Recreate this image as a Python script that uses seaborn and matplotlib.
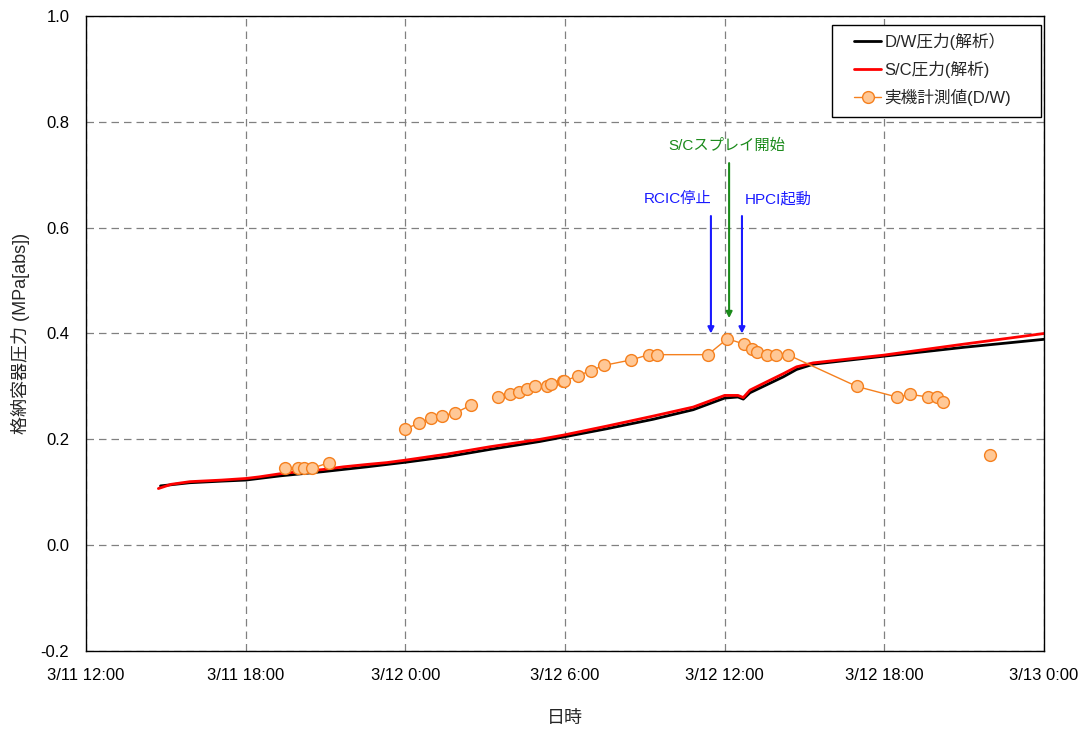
import matplotlib
matplotlib.use("Agg")
import matplotlib.pyplot as plt
from matplotlib.patches import Rectangle
import numpy as np
import pandas as pd
import seaborn as sns

# ---- data -------------------------------------------------------------
# analysis results: elapsed hours from 2011-03-11 12:00 and pressure [MPa abs]
sc_hours = [2.72, 3.2, 3.9, 5.1, 6.0, 6.5, 7.3, 8.04, 8.92, 9.67, 10.55, 11.3,
            12.05, 13.55, 15.18, 17.06, 17.94, 19.57, 21.32, 22.82, 24.0, 24.5,
            24.7, 24.95, 25.45, 26.2, 26.7, 27.33, 29.96, 33.0, 36.0]
sc_pressure = [0.107, 0.115, 0.120, 0.123, 0.126, 0.129, 0.135, 0.139, 0.143,
               0.148, 0.1525, 0.156, 0.161, 0.172, 0.186, 0.200, 0.208, 0.225,
               0.244, 0.261, 0.283, 0.283, 0.279, 0.293, 0.3055, 0.324, 0.337,
               0.3445, 0.359, 0.380, 0.400]

dw_hours = [2.8, 3.9, 5.1, 6.0, 7.3, 8.92, 10.55, 12.05, 13.55, 15.18, 17.06,
            19.57, 21.32, 22.82, 24.0, 24.5, 24.7, 24.95, 25.45, 26.2, 26.7,
            27.33, 29.96, 33.0, 36.0]
dw_pressure = [0.112, 0.118, 0.121, 0.123, 0.131, 0.139, 0.148, 0.157, 0.167,
               0.181, 0.196, 0.220, 0.238, 0.256, 0.278, 0.280, 0.276, 0.288,
               0.300, 0.318, 0.332, 0.342, 0.357, 0.374, 0.389]

# plant measurements (D/W), grouped into continuous recording segments
meas_time = ["2011-03-11 19:29", "2011-03-11 19:58", "2011-03-11 20:12",
             "2011-03-11 20:29", "2011-03-11 21:08",
             "2011-03-12 00:00", "2011-03-12 00:30", "2011-03-12 00:58",
             "2011-03-12 01:23", "2011-03-12 01:53", "2011-03-12 02:29",
             "2011-03-12 03:28", "2011-03-12 03:55", "2011-03-12 04:17",
             "2011-03-12 04:34", "2011-03-12 04:53", "2011-03-12 05:19",
             "2011-03-12 05:29", "2011-03-12 05:55", "2011-03-12 05:58",
             "2011-03-12 06:29", "2011-03-12 06:58", "2011-03-12 07:29",
             "2011-03-12 08:29", "2011-03-12 09:09", "2011-03-12 09:27",
             "2011-03-12 11:22", "2011-03-12 12:06", "2011-03-12 12:44",
             "2011-03-12 13:01", "2011-03-12 13:12", "2011-03-12 13:36",
             "2011-03-12 13:56", "2011-03-12 14:22", "2011-03-12 16:58",
             "2011-03-12 18:28", "2011-03-12 18:58", "2011-03-12 19:39",
             "2011-03-12 19:58", "2011-03-12 20:13",
             "2011-03-12 21:58"]
meas_pressure = [0.145, 0.145, 0.145, 0.145, 0.156,
                 0.220, 0.230, 0.240, 0.245, 0.250, 0.265,
                 0.280, 0.285, 0.290, 0.295, 0.300, 0.300, 0.305, 0.310, 0.310,
                 0.320, 0.330, 0.340, 0.350, 0.360, 0.360, 0.360, 0.390, 0.380,
                 0.370, 0.365, 0.360, 0.360, 0.360, 0.300, 0.280, 0.285, 0.280,
                 0.280, 0.270,
                 0.170]
meas_segment = [1] * 5 + [2] * 6 + [3] * 29 + [4]

# event annotations
event_labels = ["RCIC停止", "S/Cスプレイ開始", "HPCI起動"]
event_times = ["2011-03-12 11:29", "2011-03-12 12:10", "2011-03-12 12:39"]
event_text_times = ["2011-03-12 10:15", "2011-03-12 12:05", "2011-03-12 14:00"]
event_colors = ["#1a1aff", "#1a8a1a", "#1a1aff"]
event_text_y = [0.654, 0.754, 0.654]
event_tail_y = [0.622, 0.722, 0.622]
event_tip_y = [0.400, 0.429, 0.400]

series_labels = ["D/W圧力(解析）", "S/C圧力(解析)", "実機計測値(D/W)"]
x_ticks = pd.date_range("2011-03-11 12:00", "2011-03-13 00:00", freq="6h")
y_ticks = [-0.2, 0.0, 0.2, 0.4, 0.6, 0.8, 1.0]

# ---- frames -----------------------------------------------------------
base = pd.Timestamp("2011-03-11 12:00")
sc_df = pd.DataFrame({"time": base + pd.to_timedelta(sc_hours, unit="h"),
                      "pressure": sc_pressure})
dw_df = pd.DataFrame({"time": base + pd.to_timedelta(dw_hours, unit="h"),
                      "pressure": dw_pressure})
meas_df = pd.DataFrame({"time": pd.to_datetime(meas_time),
                        "pressure": meas_pressure,
                        "segment": meas_segment})

# ---- style ------------------------------------------------------------
sns.set_style("white")
plt.rcParams["font.family"] = ["Liberation Sans", "Noto Sans CJK JP"]
plt.rcParams["axes.unicode_minus"] = False

W, H = 1086, 731
fig = plt.figure(figsize=(W / 100, H / 100), dpi=100)
ax = fig.add_axes([86 / W, 1 - 651 / H, (1044 - 86) / W, (651 - 16) / H])

sns.lineplot(data=dw_df, x="time", y="pressure", ax=ax, color="black",
             linewidth=2.0, label=series_labels[0], sort=False)
sns.lineplot(data=sc_df, x="time", y="pressure", ax=ax, color="#ff0000",
             linewidth=2.0, label=series_labels[1], sort=False)
sns.lineplot(data=meas_df, x="time", y="pressure", units="segment",
             estimator=None, ax=ax, color="#f5801e", linewidth=1.0,
             marker="o", markersize=8.5, markerfacecolor="#ffc896",
             markeredgecolor="#f5801e", markeredgewidth=1.0,
             label=series_labels[2], sort=False)

# event arrows and labels
for lab, t, tt, c, ty, y0, y1 in zip(event_labels, event_times,
                                     event_text_times, event_colors,
                                     event_text_y, event_tail_y, event_tip_y):
    tx = pd.Timestamp(t)
    ax.annotate("", xy=(tx, y1), xytext=(tx, y0),
                arrowprops=dict(arrowstyle="-|>", color=c, lw=1.5,
                                mutation_scale=9, shrinkA=0, shrinkB=0))
    ax.text(pd.Timestamp(tt), ty, lab, color=c, fontsize=11,
            ha="center", va="center")

# axes
ax.set_xlim(x_ticks[0], x_ticks[-1])
ax.set_ylim(-0.2, 1.0)
ax.set_xticks(x_ticks)
ax.set_xticklabels([f"{d.month}/{d.day} {d.hour}:{d.minute:02d}" for d in x_ticks])
ax.set_yticks(y_ticks)
ax.set_yticklabels([f"{v:.1f}" for v in y_ticks])
ax.tick_params(axis="both", direction="in", length=5, width=1, colors="black",
               labelsize=12, pad=12)
ax.set_xlabel("日時", fontsize=13, labelpad=20)
ax.set_ylabel("格納容器圧力 (MPa[abs])", fontsize=13, labelpad=8)

ax.grid(True, color="#808080", linestyle=(0, (6, 4)), linewidth=0.9)
for s in ax.spines.values():
    s.set_color("black")
    s.set_linewidth(1.0)
    s.set_visible(True)

# legend: one entry per series, inside a square black box
handles, labels = ax.get_legend_handles_labels()
keep = [labels.index(l) for l in series_labels]
leg = ax.legend([handles[i] for i in keep], [labels[i] for i in keep],
                loc="upper left",
                bbox_to_anchor=((855 - 86) / 958 - 0.006, (651 - 28) / 635),
                borderaxespad=0, borderpad=0.3, fontsize=12, frameon=False,
                handlelength=1.6, labelspacing=0.65, handletextpad=0.2)
ax.add_patch(Rectangle(((832 - 86) / 958, (651 - 117) / 635),
                       (1041 - 832) / 958, (117 - 25) / 635,
                       transform=ax.transAxes, facecolor="white",
                       edgecolor="black", linewidth=1.0, zorder=4.9))
leg.set_zorder(5)

fig.savefig("out.png", dpi=100)
